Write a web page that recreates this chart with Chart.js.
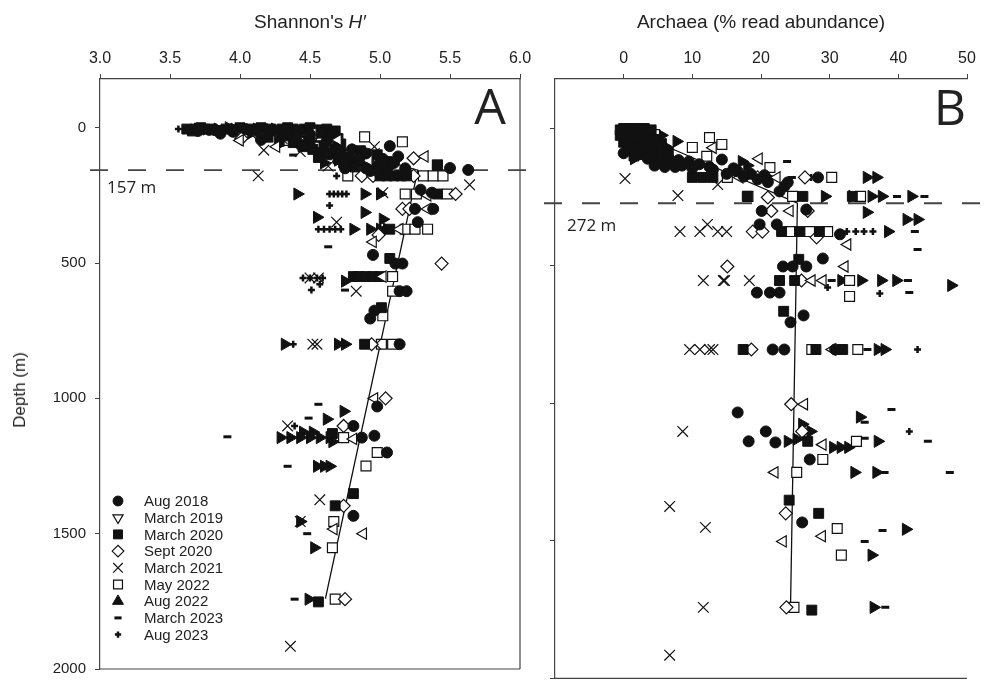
<!DOCTYPE html>
<html>
<head>
<meta charset="utf-8">
<title>Shannon H' and Archaea vs depth</title>
<script src="https://cdn.jsdelivr.net/npm/chart.js@4.4.1/dist/chart.umd.min.js"></script>
<style>
    html, body { margin: 0; padding: 0; background: #fff; }
    #wrap { position: relative; width: 985px; height: 687px; overflow: hidden;
            font-family: 'Liberation Sans', Arial, sans-serif; color: #222; }
    .box { position: absolute; top: 0; height: 687px; }
    #boxA { left: 0; width: 540px; }
    #boxB { left: 540px; width: 445px; }
    .title { position: absolute; top: 11px; font-size: 19px; white-space: nowrap;
             transform: translateX(-50%); }
    #depthLabel { position: absolute; left: 20px; top: 390px; font-size: 17px; white-space: nowrap;
                  transform: translate(-50%, -50%) rotate(-90deg); }
</style>
</head>
<body>
<div id="wrap">
    <div class="box" id="boxA"><canvas id="chartA" width="540" height="687"></canvas></div>
    <div class="box" id="boxB"><canvas id="chartB" width="445" height="687"></canvas></div>
    <div class="title" style="left:310px">Shannon's <i>H′</i></div>
    <div class="title" style="left:761px">Archaea (% read abundance)</div>
    <div id="depthLabel">Depth (m)</div>
</div>

<script>
// ── Data ─────────────────────────────────────────────────────────────────
const seriesNames = ['Aug 2018', 'March 2019', 'March 2020', 'Sept 2020', 'March 2021',
                     'May 2022', 'Aug 2022', 'March 2023', 'Aug 2023'];

const hTicks       = [3.0, 3.5, 4.0, 4.5, 5.0, 5.5, 6.0];
const archaeaTicks = [0, 10, 20, 30, 40, 50];
const depthTicks   = [0, 500, 1000, 1500, 2000];

const hBreakDepth       = 157;
const archaeaBreakDepth = 272;

// piecewise fits: [value, depth]
const hFit       = [[4.2, 0], [5.27, 157], [4.61, 1740]];
const archaeaFit = [[3, 30], [25.3, 272], [24.3, 1740]];

// Panel A – Shannon's H' : [H', depth m]
const aug2018H = [[3.86,22],[4.04,5],[4.12,12],[3.78,8],[4.5,25],[4.62,50],[4.8,80],[4.9,95],[5.07,68],
    [5.13,106],[5.0,130],[5.06,145],[5.5,149],[5.63,156],[4.75,150],[5.29,229],[5.37,240],[5.25,300],
    [5.38,300],[5.27,349],[4.95,470],[5.11,502],[5.16,502],[5.14,604],[5.19,604],[4.96,676],[4.93,705],
    [5.14,800],[4.98,1030],[4.81,1102],[4.87,1145],[4.96,1138],[5.05,1200],[4.81,1434],
    [3.7,12],[3.95,15],[4.2,20],[4.3,20],[4.4,35],[4.68,75],[4.72,95],[4.85,115],[4.9,150],[4.93,160],
    [5.02,115],[4.98,160],[5.1,130],[5.18,150],[4.15,45]];
const mar2019H = [[4.0,47],[4.26,70],[4.52,20],[4.7,45],[5.32,106],[5.34,250],[5.34,300],[5.14,375],
    [4.95,422],[5.02,550],[4.96,1000],[4.81,1150],[4.67,1483],[4.88,1500],[4.92,120]];
const mar2020H = [[3.62,5],[3.68,5],[3.74,5],[3.8,5],[3.9,5],[4.22,5],[4.3,5],[4.38,5],[4.46,5],[4.62,5],
    [4.68,12],[4.35,30],[4.5,45],[4.6,70],[4.66,95],[4.72,60],[4.78,110],[4.85,125],[4.9,140],[4.95,150],
    [4.86,85],[4.56,110],[5.0,178],[5.05,178],[5.1,178],[5.15,178],[5.19,178],[5.41,245],[5.41,138],
    [5.07,375],[4.81,550],[4.85,550],[4.9,550],[4.95,550],[5.0,550],[5.01,665],[4.89,800],[5.07,483],
    [4.81,1352],[4.68,1397],[4.56,1752],[4.66,1130],
    [3.66,12],[3.72,0],[3.84,10],[3.95,8],[4.0,0],[4.08,5],[4.15,0],[4.26,12],[4.34,0],[4.42,12],
    [4.5,0],[4.55,8],[4.58,20],[4.65,30],[4.7,40],[4.2,35],[4.28,50],[4.38,55],[4.45,70],[4.52,80],
    [4.62,100],[4.7,115],[4.74,130],[4.82,145],[4.88,100],[4.92,120],[5.0,155],[4.98,100],[5.05,125]];
const sep2020H = [[4.01,40],[4.13,25],[4.55,15],[4.95,110],[5.24,113],[4.87,178],[4.95,178],[5.24,178],
    [5.54,245],[5.16,300],[5.21,300],[4.99,396],[5.44,502],[4.94,800],[5.04,1000],[4.74,1102],
    [4.74,1397],[4.75,1742]];
const mar2021H = [[4.17,83],[4.43,88],[4.63,142],[4.96,70],[4.96,95],[4.3,40],[4.13,178],[5.64,211],
    [5.02,240],[4.69,349],[4.5,555],[4.56,555],[4.83,604],[4.52,800],[4.55,800],[4.97,800],[4.34,1102],
    [4.57,1375],[4.43,1455],[4.36,1916]];
const may2022H = [[4.16,5],[4.34,47],[4.43,15],[4.58,30],[4.66,83],[4.79,101],[4.89,34],[5.16,52],
    [5.41,138],[4.77,178],[5.31,178],[5.38,178],[5.45,178],[5.18,245],[5.26,245],[5.48,245],[5.18,375],
    [5.25,375],[5.34,375],[5.09,550],[5.09,604],[5.02,695],[5.01,800],[5.09,800],[4.74,1145],[4.98,1200],
    [4.9,1250],[4.67,1455],[4.66,1552],[4.68,1742]];
const aug2022H = [[3.7,5],[3.96,5],[4.08,20],[4.18,25],[4.3,55],[4.45,60],[4.55,85],[4.7,120],[4.82,140],
    [4.6,130],[4.41,245],[4.89,245],[5.0,245],[4.89,313],[4.55,331],[5.02,338],[4.81,375],[4.93,375],
    [5.0,375],[5.05,375],[4.75,567],[4.32,800],[4.7,800],[4.75,800],[4.74,1048],[4.62,1077],[4.45,1125],
    [4.52,1125],[4.29,1145],[4.36,1145],[4.43,1145],[4.5,1145],[4.57,1145],[4.64,1145],[4.66,1160],
    [4.55,1251],[4.6,1251],[4.64,1251],[4.43,1455],[4.53,1552],[4.49,1742],
    [3.76,5],[3.84,5],[3.92,0],[4.12,5],[4.25,5],[4.4,10],[4.36,40],[4.48,45],[4.62,90],[4.75,100],
    [4.8,125],[4.9,150],[4.95,135]];
const mar2023H = [[4.38,101],[4.25,5],[4.56,50],[4.63,440],[4.75,600],[4.56,1022],[4.49,1073],
    [3.91,1142],[4.34,1251],[4.48,1500],[4.39,1742]];
const aug2023H = [[3.56,5],[3.64,5],[4.05,15],[4.35,15],[4.69,178],[4.64,245],[4.67,245],[4.7,245],
    [4.73,245],[4.76,245],[4.64,287],[4.56,375],[4.6,375],[4.64,375],[4.68,375],[4.72,375],[4.45,555],
    [4.5,555],[4.55,555],[4.59,555],[4.57,578],[4.51,600],[4.38,800],[4.39,1102],[4.43,1455]];

// Panel B – Archaea % read abundance : [%, depth m]
const aug2018Arc = [[0,5],[1,12],[2,25],[3.5,40],[1.5,60],[4,75],[5.5,90],[6.5,105],[8,115],[9.5,120],
    [11,130],[12.5,140],[14.3,113],[16,145],[16.6,156],[18.5,165],[23.4,211],[22.7,229],[23.9,196],
    [28.3,178],[20.1,300],[26.6,295],[19.8,349],[22.3,349],[31.5,385],[23.2,502],[24.6,502],[26.6,502],
    [29,473],[19.4,597],[21.3,597],[22.7,597],[24.3,705],[26.2,680],[21.7,804],[23.4,804],[30.8,804],
    [16.6,1033],[20.7,1102],[18.2,1138],[22.1,1142],[27.1,1204],[26,1433],
    [0.5,40],[2.5,65],[3.5,110],[5,120],[4.5,135],[6,140],[7.5,140],[2,90],[0,90],[8.5,135],[10,145],
    [13,150],[15,165],[17.5,175],[19.5,185],[21,195],[20.5,170]];
const mar2019Arc = [[1,20],[13,70],[19.7,110],[16.9,178],[22.3,178],[24.2,300],[32.6,422],[32.2,502],
    [27.4,553],[29,553],[30.4,804],[26.3,1003],[29,1150],[22,1251],[28.9,1483],[23.2,1502]];
const mar2020Arc = [[-0.5,5],[0.5,15],[2.5,5],[3.5,15],[1.5,35],[4.5,40],[5.5,55],[1,80],[3,95],
    [10,178],[11.5,178],[13,178],[18,247],[26.1,247],[33.3,247],[23,375],[25.6,375],[28.5,375],
    [25.5,476],[22.7,553],[24.9,553],[23.3,665],[17.4,804],[28,804],[31.9,804],[26.8,1138],[24.1,1352],
    [28.4,1400],[27.4,1752],
    [0,0],[1,0],[2,0],[3,0],[4,5],[0.5,30],[2,45],[3,60],[4,90],[5,100],[6,110],[2.5,80],[0,50],
    [0.5,70],[1.5,100],[5,70],[6.5,85],[7,120],[-0.5,25]];
const sep2020Arc = [[2,30],[4,55],[19.5,178],[26.4,178],[21,251],[21.5,300],[26.8,300],[18.8,375],
    [20.2,375],[28.1,396],[15.1,502],[25.9,553],[18.6,804],[24.4,1003],[26,1102],[23.6,1400],[23.7,1742]];
const mar2021Arc = [[1,40],[3,80],[0.2,182],[7.9,244],[13.7,204],[8.2,375],[11.1,375],[12.2,349],
    [13.7,375],[15,375],[11.6,553],[14.5,553],[14.7,553],[18.3,553],[9.6,804],[11.1,804],[12.5,804],
    [13,804],[8.6,1102],[6.7,1375],[11.9,1451],[11.6,1742],[6.7,1916]];
const may2022Arc = [[2,10],[4.5,22],[10,69],[12.5,33],[14.3,58],[12.1,101],[21.3,142],[15.1,178],
    [30.3,178],[18.1,247],[24.6,247],[34.5,247],[24.2,375],[27.1,375],[29.7,375],[32.9,553],[32.9,611],
    [27.4,804],[34.1,804],[33.9,1138],[29,1204],[25.2,1251],[31.1,1455],[31.7,1552],[24.8,1742]];
const aug2022Arc = [[2,50],[3,70],[7.7,47],[17.2,120],[18,135],[21,178],[35.4,178],[36.8,178],[29.3,247],
    [33.3,247],[36.1,247],[37.6,247],[41.9,247],[35.4,305],[41.2,331],[42.8,331],[38.5,375],[31.7,553],
    [34.6,553],[37.5,553],[39.7,553],[47.7,571],[37,804],[38,804],[34.4,1050],[26,1076],[27.2,1102],
    [23.9,1138],[25.2,1130],[30.5,1160],[31.6,1160],[32.7,1160],[37,1138],[33.6,1251],[36.8,1251],
    [41.1,1458],[36.1,1552],[36.4,1742],
    [0.5,25],[4.5,30],[5.5,25],[1.5,110],[6,65]];
const mar2023Arc = [[23.8,120],[24.5,178],[39.8,247],[43.8,247],[42.4,375],[42.8,440],[30.3,553],
    [41.4,553],[41.6,597],[35.5,804],[39,1022],[35.1,1069],[35.1,1127],[44.3,1138],[38,1251],[47.5,1251],
    [37.7,1462],[35.1,1502],[38.1,1742]];
const aug2023Arc = [[1,10],[27.3,178],[32.5,375],[33.8,375],[35,375],[36.3,375],[29.7,578],[37.3,600],
    [42.8,804],[41.6,1102]];

const shannonSeries = [aug2018H, mar2019H, mar2020H, sep2020H, mar2021H, may2022H, aug2022H, mar2023H, aug2023H];
const archaeaSeries = [aug2018Arc, mar2019Arc, mar2020Arc, sep2020Arc, mar2021Arc, may2022Arc, aug2022Arc, mar2023Arc, aug2023Arc];

// ── Marker styles (one per sampling campaign) ────────────────────────────
const ink = '#111';
const markers = [
    { style: 'circle',   radius: 5.5, fill: ink,    border: 1 },
    { style: 'triangle', radius: 6.5, fill: '#fff', border: 1.2, rotation: -90, legendRotation: 180 },
    { style: 'rect',     radius: 7,   fill: ink,    border: 1 },
    { style: 'rectRot',  radius: 6.5, fill: '#fff', border: 1.2 },
    { style: 'crossRot', radius: 7.5, fill: '#fff', border: 1.2 },
    { style: 'rect',     radius: 7,   fill: '#fff', border: 1.2 },
    { style: 'triangle', radius: 7,   fill: ink,    border: 1, rotation: 90, legendRotation: 0 },
    { style: 'line',     radius: 4,   fill: ink,    border: 3 },
    { style: 'cross',    radius: 3.5, fill: ink,    border: 2.5 }
];

Chart.defaults.font.family = "'Liberation Sans', Arial, sans-serif";
Chart.defaults.color = '#222';

function toPoints(pairs) {
    return pairs.map(p => ({ x: p[0], y: p[1] }));
}

function buildDatasets(seriesList, fit) {
    const sets = seriesList.map(function (pairs, i) {
        const m = markers[i];
        return {
            label: seriesNames[i],
            data: toPoints(pairs),
            pointStyle: m.style,
            pointRadius: m.radius,
            pointHoverRadius: m.radius,
            pointRotation: m.rotation || 0,
            pointBackgroundColor: m.fill,
            pointBorderColor: ink,
            pointBorderWidth: m.border,
            order: 1
        };
    });
    sets.push({
        label: 'fit',
        data: toPoints(fit),
        showLine: true,
        pointRadius: 0,
        borderColor: ink,
        borderWidth: 1.3,
        order: 5
    });
    return sets;
}

// ── Dashed break line, frame, panel letter, in-panel legend ─────────────
const panelDecor = {
    id: 'panelDecor',
    beforeDatasetsDraw(chart, args, o) {
        const { ctx, chartArea: a } = chart;
        const yb = chart.scales.y.getPixelForValue(o.breakDepth);
        ctx.save();
        ctx.strokeStyle = '#444';
        ctx.lineWidth = 1.8;
        ctx.setLineDash([18, 20]);
        ctx.beginPath();
        ctx.moveTo(a.left + o.dashFrom, yb);
        ctx.lineTo(a.right + o.dashTo, yb);
        ctx.stroke();
        ctx.setLineDash([]);

        ctx.lineWidth = 1.2;
        ctx.beginPath();
        ctx.moveTo(a.left, a.bottom);
        ctx.lineTo(a.right, a.bottom);
        if (o.frameRight) {
            ctx.moveTo(a.right, a.top);
            ctx.lineTo(a.right, a.bottom);
        }
        ctx.stroke();

        ctx.fillStyle = '#222';
        ctx.textBaseline = 'middle';
        ctx.font = "17px 'Open Sans', sans-serif";
        ctx.fillText(o.breakDepth + ' m', a.left + o.labelDx, yb + o.labelDy);

        ctx.textAlign = 'center';
        ctx.textBaseline = 'alphabetic';
        ctx.font = "50px 'Open Sans', sans-serif";
        ctx.fillText(o.letter, o.letterX, o.letterY);
        ctx.restore();
    },
    afterDatasetsDraw(chart, args, o) {
        if (!o.legend) return;
        const ctx = chart.ctx;
        ctx.save();
        seriesNames.forEach(function (name, i) {
            const m = markers[i];
            const y = o.legendTop + i * o.legendStep;
            ctx.fillStyle = m.fill;
            ctx.strokeStyle = ink;
            ctx.lineWidth = m.border;
            Chart.helpers.drawPoint(ctx, {
                pointStyle: m.style,
                radius: m.radius * 0.9,
                rotation: m.legendRotation !== undefined ? m.legendRotation : (m.rotation || 0),
                borderWidth: m.border
            }, o.legendX, y);
            ctx.fillStyle = '#222';
            ctx.font = "15px 'Liberation Sans', Arial, sans-serif";
            ctx.textBaseline = 'middle';
            ctx.textAlign = 'left';
            ctx.fillText(name, o.legendX + 26, y + 1);
        });
        ctx.restore();
    }
};

function axisLook(extra) {
    return Object.assign({
        grid: { drawOnChartArea: false, drawTicks: true, tickLength: 5, color: '#444' },
        border: { display: true, color: '#444', width: 1.2 }
    }, extra);
}

function makeChart(canvasId, seriesList, fit, xCfg, yTicksShown, pad, decor) {
    return new Chart(document.getElementById(canvasId), {
        type: 'scatter',
        data: { datasets: buildDatasets(seriesList, fit) },
        options: {
            responsive: false,
            animation: false,
            devicePixelRatio: 1,
            layout: { padding: pad },
            plugins: { legend: { display: false }, tooltip: { enabled: false }, panelDecor: decor },
            scales: {
                x: axisLook({
                    type: 'linear', position: 'top', min: xCfg.min, max: xCfg.max,
                    afterBuildTicks: s => { s.ticks = xCfg.ticks.map(v => ({ value: v })); },
                    afterFit: s => { s.height = 79; },
                    ticks: { callback: xCfg.format, font: { size: 16 }, padding: 6, autoSkip: false, maxRotation: 0 }
                }),
                y: axisLook({
                    type: 'linear', reverse: true, min: -180, max: 2000,
                    afterBuildTicks: s => { s.ticks = depthTicks.map(v => ({ value: v })); },
                    afterFit: s => { s.width = pad.yWidth; },
                    ticks: { display: yTicksShown, callback: v => String(v), font: { size: 15 }, padding: 9, autoSkip: false }
                })
            }
        },
        plugins: [panelDecor]
    });
}

makeChart('chartA', shannonSeries, hFit,
    { min: 3, max: 6, ticks: hTicks, format: v => v.toFixed(1) }, true,
    { left: 0, right: 20, top: 0, bottom: 8, yWidth: 100 },
    { breakDepth: hBreakDepth, dashFrom: -10, dashTo: 6, labelDx: 7, labelDy: 18,
      frameRight: true, letter: 'A', letterX: 490, letterY: 124,
      legend: true, legendX: 118, legendTop: 501, legendStep: 16.7 });

makeChart('chartB', archaeaSeries, archaeaFit,
    { min: -10, max: 50, ticks: archaeaTicks, format: v => String(v) }, false,
    { left: 0, right: 18, top: 0, bottom: 8, yWidth: 15 },
    { breakDepth: archaeaBreakDepth, dashFrom: -11, dashTo: 13, labelDx: 12, labelDy: 23,
      frameRight: false, letter: 'B', letterX: 410, letterY: 125, legend: false });
</script>
</body>
</html>
